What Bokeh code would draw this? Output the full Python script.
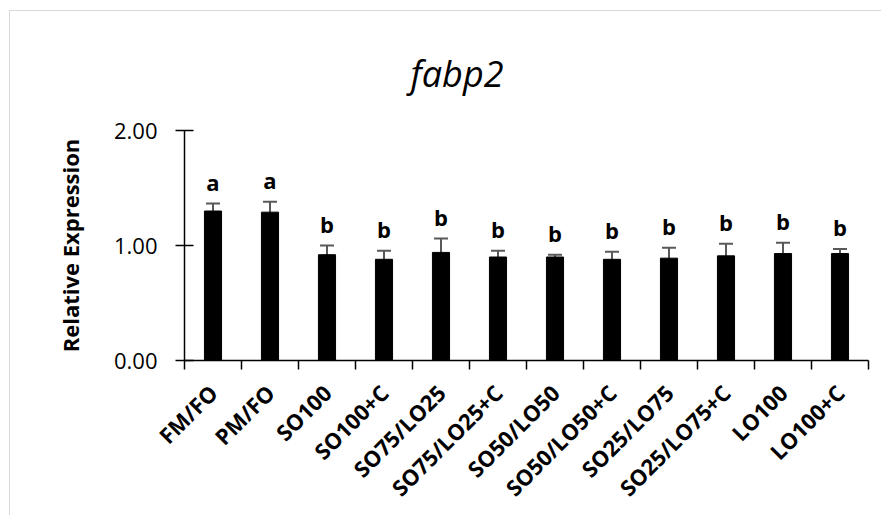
from math import pi
from bokeh.plotting import figure
from bokeh.models import (ColumnDataSource, Range1d, FixedTicker, NumeralTickFormatter,
                          Whisker, TeeHead)
from bokeh.core.properties import value
from bokeh.embed import file_html
from bokeh.resources import INLINE

categories = ["FM/FO", "PM/FO", "SO100", "SO100+C", "SO75/LO25", "SO75/LO25+C",
              "SO50/LO50", "SO50/LO50+C", "SO25/LO75", "SO25/LO75+C", "LO100", "LO100+C"]
means = [1.30, 1.29, 0.92, 0.88, 0.94, 0.90, 0.90, 0.88, 0.89, 0.91, 0.93, 0.93]
errors = [0.065, 0.09, 0.08, 0.075, 0.12, 0.055, 0.02, 0.065, 0.09, 0.105, 0.095, 0.04]
letters = ["a", "a", "b", "b", "b", "b", "b", "b", "b", "b", "b", "b"]
y_ticks = [0, 1, 2]
chart_title = "fabp2"

centers = [i + 0.5 for i in range(len(categories))]
bounds = list(range(len(categories) + 1))

src = ColumnDataSource(dict(
    x=centers, top=means,
    upper=[m + e for m, e in zip(means, errors)],
    lower=[m - e for m, e in zip(means, errors)],
    letters=letters,
))

p = figure(frame_width=684, frame_height=230, output_backend="svg", toolbar_location=None,
           x_range=Range1d(0, len(categories)), y_range=Range1d(0, 2),
           min_border_left=174, min_border_right=13, min_border_top=119, min_border_bottom=150,
           styles={"margin-top": "10px", "margin-left": "9px",
                   "border-top": "1px solid #d9d9d9", "border-left": "1px solid #d9d9d9"})
p.outline_line_color = None
p.grid.visible = False
p.background_fill_color = "white"
p.border_fill_color = "white"

p.title.text = chart_title
p.title.text_font = "Open Sans"
p.title.text_font_style = "italic"
p.title.text_font_size = "36px"
p.title.text_color = "black"
p.title.align = "left"
p.title.offset = 226
p.title.standoff = 66

p.vbar(x="x", top="top", width=0.3, bottom=0, source=src, fill_color="black", line_color="black")

w = Whisker(base="x", upper="upper", lower="lower", source=src,
            line_color="#595959", line_width=2,
            upper_head=TeeHead(size=14, line_color="#595959", line_width=2),
            lower_head=TeeHead(size=14, line_color="#595959", line_width=2))
p.add_layout(w)

p.text(x="x", y="upper", text="letters", source=src, y_offset=-7,
       text_align="center", text_baseline="bottom",
       text_font=value("Open Sans"), text_font_style="bold", text_font_size="22px",
       text_color="black")

# x axis
xa = p.xaxis[0]
xa.ticker = FixedTicker(ticks=centers, minor_ticks=bounds)
xa.major_label_overrides = {c: lab for c, lab in zip(centers, categories)}
xa.major_label_orientation = pi / 4
xa.major_tick_out = 0
xa.major_tick_in = 0
xa.minor_tick_out = 9
xa.minor_tick_in = 0
xa.minor_tick_line_color = "black"
xa.minor_tick_line_width = 1.5
xa.axis_line_color = "black"
xa.axis_line_width = 1.5
xa.major_label_text_font = "Open Sans"
xa.major_label_text_font_style = "bold"
xa.major_label_text_font_size = "22px"
xa.major_label_text_color = "black"
xa.major_label_standoff = 19

# y axis
ya = p.yaxis[0]
ya.ticker = FixedTicker(ticks=y_ticks, minor_ticks=[])
ya.formatter = NumeralTickFormatter(format="0.00")
ya.major_tick_out = 9
ya.major_tick_in = 9
ya.major_tick_line_color = "black"
ya.major_tick_line_width = 1.5
ya.axis_line_color = "black"
ya.axis_line_width = 1.5
ya.major_label_text_font = "Open Sans"
ya.major_label_text_font_size = "22px"
ya.major_label_text_color = "black"
ya.major_label_standoff = 18
ya.axis_label = "Relative Expression"
ya.axis_label_text_font = "Open Sans"
ya.axis_label_text_font_style = "bold"
ya.axis_label_text_font_size = "22px"
ya.axis_label_text_color = "black"
ya.axis_label_standoff = 26

open("out.html", "w").write(file_html(p, INLINE))
